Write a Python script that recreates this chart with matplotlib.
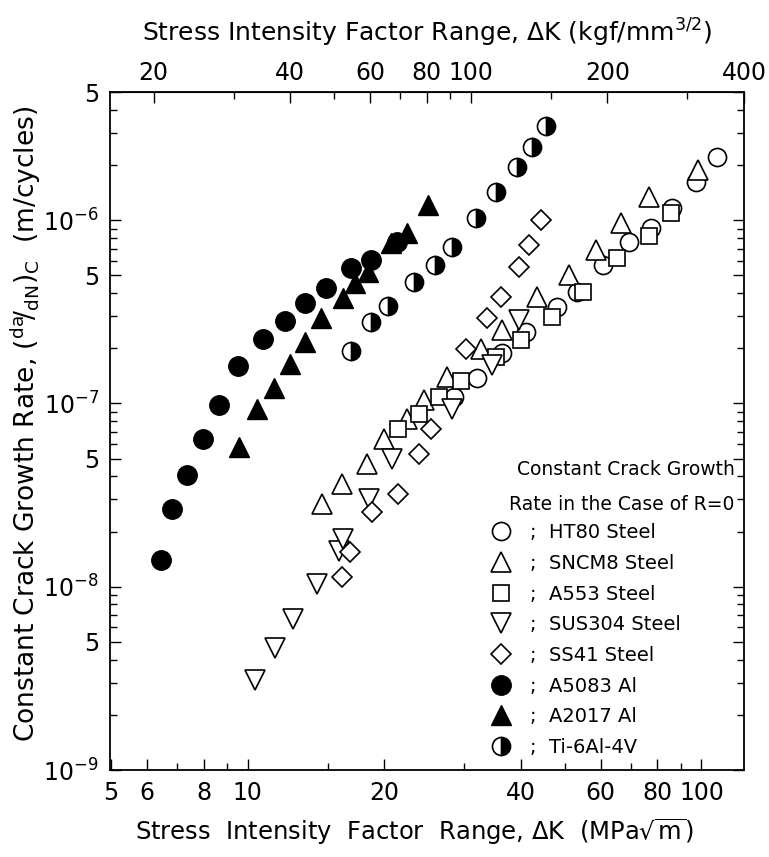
import matplotlib.pyplot as plt
from matplotlib.lines import Line2D
from matplotlib.ticker import NullFormatter

# delta K in MPa*sqrt(m), crack growth rate in m/cycle
ht80_dk = [28.5, 32.0, 36.4, 41.1, 48.0, 53.1, 60.6, 69.1, 77.3, 85.9, 97.5, 108.4]
ht80_rate = [1.08e-7, 1.38e-7, 1.89e-7, 2.46e-7, 3.37e-7, 4.06e-7, 5.69e-7, 7.59e-7,
             9.05e-7, 1.16e-6, 1.61e-6, 2.20e-6]

sncm8_dk = [14.6, 16.1, 18.3, 20.0, 22.4, 24.5, 27.5, 32.7, 36.4, 43.4, 51.0, 58.5, 66.4,
            76.5, 98.5]
sncm8_rate = [2.83e-8, 3.63e-8, 4.66e-8, 6.37e-8, 8.19e-8, 1.05e-7, 1.40e-7, 1.97e-7,
              2.52e-7, 3.82e-7, 5.02e-7, 6.87e-7, 9.6e-7, 1.33e-6, 1.87e-6]

a553_dk = [21.4, 23.9, 26.4, 29.5, 35.3, 40.0, 46.8, 54.7, 65.3, 76.5, 85.5]
a553_rate = [7.22e-8, 8.71e-8, 1.09e-7, 1.32e-7, 1.80e-7, 2.23e-7, 2.97e-7, 4.06e-7,
             6.21e-7, 8.19e-7, 1.09e-6]

sus304_dk = [10.4, 11.5, 12.6, 14.2, 15.9, 16.2, 18.5, 20.8, 28.2, 34.6, 39.6]
sus304_rate = [3.08e-9, 4.61e-9, 6.70e-9, 1.04e-8, 1.57e-8, 1.82e-8, 3.01e-8, 4.96e-8,
               9.28e-8, 1.63e-7, 2.86e-7]

ss41_dk = [16.1, 16.8, 18.8, 21.4, 23.9, 25.4, 30.3, 33.7, 36.2, 39.6, 41.7, 44.3]
ss41_rate = [1.13e-8, 1.55e-8, 2.56e-8, 3.20e-8, 5.28e-8, 7.22e-8, 1.97e-7, 2.93e-7,
             3.82e-7, 5.55e-7, 7.31e-7, 1.0e-6]

a5083_dk = [6.44, 6.81, 7.34, 7.96, 8.64, 9.51, 10.8, 12.1, 13.4, 14.9, 16.9, 18.7, 21.3]
a5083_rate = [1.40e-8, 2.65e-8, 4.06e-8, 6.37e-8, 9.75e-8, 1.59e-7, 2.26e-7, 2.83e-7,
              3.54e-7, 4.27e-7, 5.48e-7, 6.06e-7, 7.59e-7]

a2017_dk = [9.55, 10.5, 11.4, 12.4, 13.4, 14.5, 16.2, 17.2, 18.4, 20.7, 22.4, 25.0]
a2017_rate = [5.77e-8, 9.28e-8, 1.21e-7, 1.65e-7, 2.17e-7, 2.93e-7, 3.77e-7, 4.55e-7,
              5.22e-7, 7.50e-7, 8.50e-7, 1.21e-6]

ti_dk = [16.9, 18.7, 20.4, 23.3, 25.8, 28.2, 31.9, 35.3, 39.2, 42.3, 45.4]
ti_rate = [1.92e-7, 2.79e-7, 3.41e-7, 4.60e-7, 5.69e-7, 7.13e-7, 1.03e-6, 1.42e-6,
           1.94e-6, 2.52e-6, 3.28e-6]

labels = ["HT80 Steel", "SNCM8 Steel", "A553 Steel", "SUS304 Steel", "SS41 Steel",
          "A5083 Al", "A2017 Al", "Ti-6Al-4V"]

KGF_TO_MPA = 0.3101  # 1 kgf/mm^1.5 in MPa*sqrt(m)

x_major = [5, 6, 8, 10, 20, 40, 60, 80, 100]
x_minor = [7, 9, 15, 30, 50, 70, 90]
top_major = [20, 40, 60, 80, 100, 200, 400]
top_minor = [30, 50, 70, 90, 150, 300]
y_major = [1e-9, 5e-9, 1e-8, 5e-8, 1e-7, 5e-7, 1e-6, 5e-6]
y_major_labels = [r"$10^{-9}$", "5", r"$10^{-8}$", "5", r"$10^{-7}$", "5", r"$10^{-6}$", "5"]

plt.rcParams["font.family"] = "DejaVu Sans"

fig = plt.figure(figsize=(7.69, 8.57), dpi=100)
ax = fig.add_axes([110 / 769, 1 - 770 / 857, 634 / 769, 678 / 857])

open_kw = dict(linestyle="none", markerfacecolor="white", markeredgecolor="black",
               markeredgewidth=1.2)
filled_kw = dict(linestyle="none", color="black")

series = [
    (ht80_dk, ht80_rate, dict(marker="o", markersize=13, **open_kw)),
    (sncm8_dk, sncm8_rate, dict(marker="^", markersize=14, **open_kw)),
    (a553_dk, a553_rate, dict(marker="s", markersize=11, **open_kw)),
    (sus304_dk, sus304_rate, dict(marker="v", markersize=14, **open_kw)),
    (ss41_dk, ss41_rate, dict(marker="D", markersize=10, **open_kw)),
    (a5083_dk, a5083_rate, dict(marker="o", markersize=14, **filled_kw)),
    (a2017_dk, a2017_rate, dict(marker="^", markersize=14, **filled_kw)),
    (ti_dk, ti_rate, dict(marker="o", markersize=13, linestyle="none", fillstyle="right",
                          markerfacecolor="black", markerfacecoloralt="white",
                          markeredgecolor="black", markeredgewidth=1.2)),
]

handles = []
for (xs, ys, kw), lab in zip(series, labels):
    ax.plot(xs, ys, **kw)
    handles.append(Line2D([], [], label=";  " + lab, **kw))

ax.set_xscale("log")
ax.set_yscale("log")
ax.set_xlim(4.97, 124.1)
ax.set_ylim(1e-9, 5e-6)

ax.set_xticks(x_major, labels=[str(v) for v in x_major])
ax.set_xticks(x_minor, minor=True)
ax.xaxis.set_minor_formatter(NullFormatter())

y_minor = [k * 10.0 ** e for e in range(-9, -5) for k in (2, 3, 4, 6, 7, 8, 9)
           if k * 10.0 ** e < 5e-6]
ax.set_yticks(y_major, labels=y_major_labels)
ax.set_yticks(y_minor, minor=True)
ax.yaxis.set_minor_formatter(NullFormatter())

ax.tick_params(which="both", direction="in", top=False, right=True, width=1.0,
               labelsize=17)
ax.tick_params(which="major", length=8, pad=8)
ax.tick_params(which="minor", length=5)
for s in ax.spines.values():
    s.set_linewidth(1.3)

ax.set_xlabel(r"Stress  Intensity  Factor  Range, $\Delta$K  (MPa$\sqrt{\mathrm{m}}$)",
              fontsize=17.5, labelpad=8)
ax.xaxis.label.set_x(0.48)
ax.set_ylabel(r"Constant Crack Growth Rate, $(^{\mathrm{da}}\!/_{\mathrm{dN}})_{\mathrm{C}}$"
              r"  (m/cycles)", fontsize=19, labelpad=0)
ax.yaxis.label.set_y(0.51)

secax = ax.secondary_xaxis("top", functions=(lambda x: x / KGF_TO_MPA,
                                              lambda k: k * KGF_TO_MPA))
secax.set_xticks(top_major, labels=[str(v) for v in top_major])
secax.set_xticks(top_minor, minor=True)
secax.xaxis.set_minor_formatter(NullFormatter())
secax.tick_params(which="both", direction="in", width=1.0, labelsize=17)
secax.tick_params(which="major", length=8, pad=5)
secax.tick_params(which="minor", length=5)
secax.set_xlabel(r"Stress Intensity Factor Range, $\Delta$K (kgf/mm$^{3/2}$)",
                 fontsize=18, labelpad=14)

ax.text(0.985, 0.4425, "Constant Crack Growth", transform=ax.transAxes,
        ha="right", va="center", fontsize=13.5)
ax.text(0.985, 0.391, "Rate in the Case of R=0", transform=ax.transAxes,
        ha="right", va="center", fontsize=13.5)
ax.legend(handles=handles, loc="upper left", bbox_to_anchor=(0.601, 0.364),
          frameon=False, fontsize=14, borderpad=0, borderaxespad=0,
          handlelength=1.0, handletextpad=1.0, labelspacing=0.6)

fig.savefig("out.png", dpi=100)
